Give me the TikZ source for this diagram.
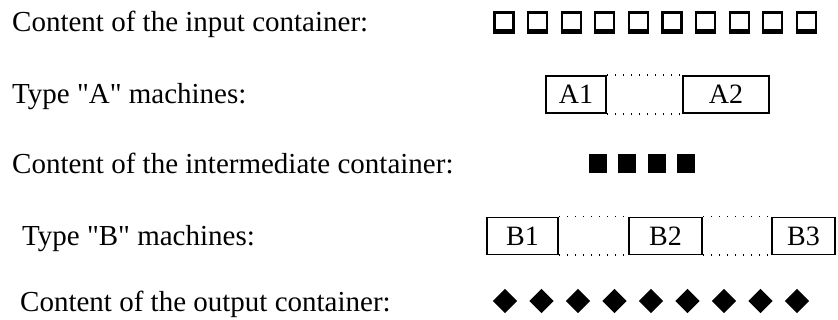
\documentclass[tikz,border=0pt]{standalone}
\usepackage{fontspec}
\newfontfamily\labfont{Liberation Serif}
\begin{document}
\begin{tikzpicture}[x=1pt,y=-1pt,
  lbl/.style={anchor=base west,inner sep=0pt,font=\labfont\fontsize{29}{34}\selectfont},
  mbox/.style={draw,line width=1.6pt,inner sep=0pt,minimum height=37pt,font=\labfont\fontsize{28}{34}\selectfont},
  dots/.style={line width=1.6pt,dash pattern=on 1.6pt off 6.4pt},
  esq/.style={draw,line width=2.2pt,inner sep=0pt,minimum width=19pt,minimum height=18pt},
  fsq/.style={fill,inner sep=0pt,minimum width=18pt,minimum height=19pt},
  dia/.style={fill,inner sep=0pt,minimum width=17pt,minimum height=17pt,rotate=45}]
\useasboundingbox (0,0) rectangle (838,320);
% labels
\node[lbl] (t1) at (12,32) {Content of the input container:};
\node[lbl] (t2) at (12,104) {Type "A" machines:};
\node[lbl] (t3) at (12,174) {Content of the intermediate container:};
\node[lbl] (t4) at (22,246) {Type "B" machines:};
\node[lbl] (t5) at (20,312) {Content of the output container:};
% input squares
\foreach \i in {0,...,9} {
  \node[esq] (in\i) at ({504+33.6*\i},21.5) {};
  \draw[line width=2.2pt] ([yshift=-1pt]in\i.south west) -- ([yshift=-1pt]in\i.south east);
}
% A machines
\node[mbox,minimum width=60pt] (A1) at (576,94.5) {A1};
\node[mbox,minimum width=86pt] (A2) at (726,94.5) {A2};
\draw[dots] (A1.north east) -- (A2.north west);
\draw[dots] (A1.south east) -- (A2.south west);
% intermediate squares
\foreach \i in {0,...,3} \node[fsq] (mid\i) at ({597.5+29.5*\i},163.5) {};
% B machines
\node[mbox,minimum width=71pt] (B1) at (522.5,236) {B1};
\node[mbox,minimum width=73pt] (B2) at (665.5,236) {B2};
\node[mbox,minimum width=63pt] (B3) at (803.5,236) {B3};
\draw[dots] (B1.north east) -- (B2.north west);
\draw[dots] (B1.south east) -- (B2.south west);
\draw[dots] (B2.north east) -- (B3.north west);
\draw[dots] (B2.south east) -- (B3.south west);
% output diamonds
\foreach \i in {0,...,8} \node[dia] (out\i) at ({505+36.5*\i},301) {};
\end{tikzpicture}
\end{document}
